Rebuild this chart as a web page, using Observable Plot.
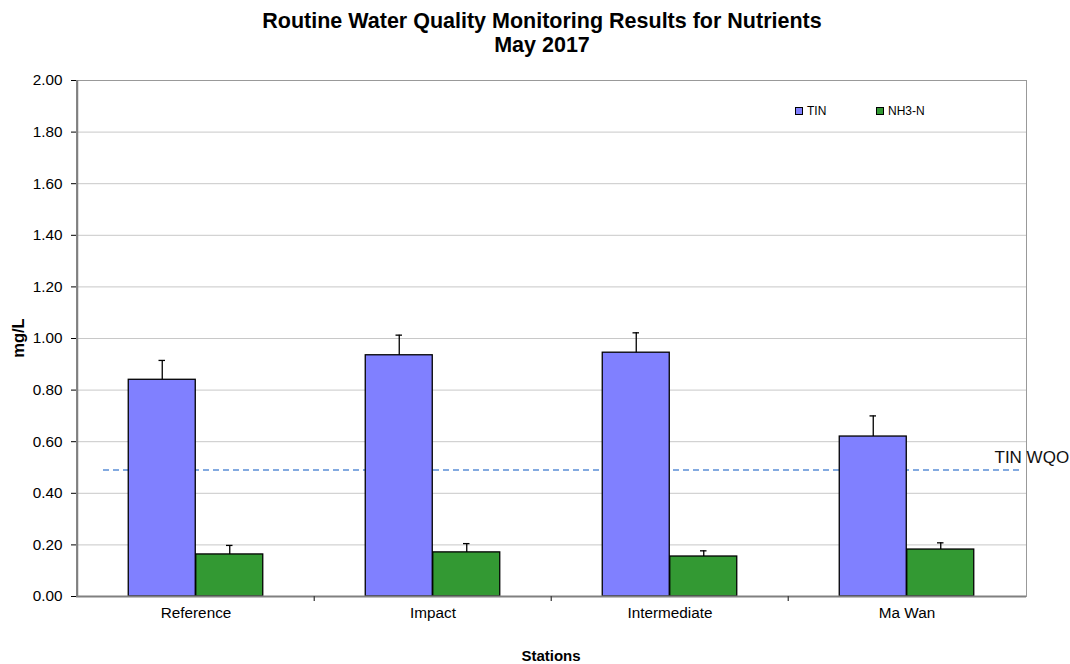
<!DOCTYPE html>
<html>
<head>
<meta charset="utf-8">
<script src="https://cdn.jsdelivr.net/npm/d3@7"></script>
<script src="https://cdn.jsdelivr.net/npm/@observablehq/plot@0.6"></script>
<style>
  html, body { margin: 0; padding: 0; background: #fff; }
  body { font-family: "Liberation Sans", Arial, sans-serif; }
  #wrap { position: relative; width: 1070px; height: 664px; overflow: hidden; }
  #title { position: absolute; left: 0; top: 9px; width: 1084px; text-align: center;
           font-size: 21.5px; font-weight: bold; line-height: 24px; color: #000; }
  #ylab { position: absolute; left: 18px; top: 338px; transform: translate(-50%, -50%) rotate(-90deg);
          font-size: 16.5px; font-weight: bold; white-space: nowrap; }
  #xlab { position: absolute; left: 551px; top: 647px; transform: translateX(-50%);
          font-size: 15px; font-weight: bold; }
  .leg { position: absolute; top: 104px; font-size: 12px; line-height: 14px; display: flex; align-items: center; }
  .sw { width: 6px; height: 6px; border: 1px solid #000; margin-right: 4px; }
  #chart { position: absolute; left: 0; top: 0; }
</style>
</head>
<body>
<div id="wrap">
  <div id="chart"></div>
  <div id="title">Routine Water Quality Monitoring Results for Nutrients<br>May 2017</div>
  <div id="ylab">mg/L</div>
  <div id="xlab">Stations</div>
  <div class="leg" style="left:795px"><div class="sw" style="background:#8080ff"></div>TIN</div>
  <div class="leg" style="left:876px"><div class="sw" style="background:#339933"></div>NH3-N</div>
</div>
<script>
const stations = ["Reference", "Impact", "Intermediate", "Ma Wan"];
const tin = [0.84, 0.935, 0.945, 0.62];
const tinErr = [0.075, 0.078, 0.077, 0.08];
const nh3 = [0.163, 0.171, 0.155, 0.182];
const nh3Err = [0.035, 0.034, 0.022, 0.026];
const wqo = [0.49];
const yTicks = [0, 0.2, 0.4, 0.6, 0.8, 1.0, 1.2, 1.4, 1.6, 1.8, 2.0];

const tinData = stations.map((s, i) => ({station: s, value: tin[i], err: tinErr[i]}));
const nh3Data = stations.map((s, i) => ({station: s, value: nh3[i], err: nh3Err[i]}));

const BW = 237.5;         // band width in px, used only for within-band offsets
const G0 = 51.25, G1 = 118.75, G2 = 186.25;

const chart = Plot.plot({
  width: 1070,
  height: 664,
  marginTop: 80,
  marginRight: 44,
  marginBottom: 68,
  marginLeft: 76,
  style: {fontFamily: "'Liberation Sans', Arial, sans-serif", fontSize: "15.3px", color: "#000", background: "#fff"},
  x: {domain: stations, padding: 0, label: null, tickSize: 0, tickPadding: 11},
  y: {domain: [0, 2], ticks: yTicks, tickFormat: d3.format(".2f"), label: null, tickSize: 5, tickPadding: 9},
  marks: [
    Plot.ruleY(yTicks.slice(1, -1), {y: d => d, stroke: "#c8c8c8", strokeWidth: 1}),
    Plot.ruleY(wqo, {y: d => d, stroke: "#5b8ed6", strokeWidth: 1.5, strokeDasharray: "6,4", insetLeft: 27, insetRight: 4}),
    Plot.barY(tinData, {x: "station", y: "value", fill: "#8080ff", stroke: "#000", strokeWidth: 1.3,
      insetLeft: G0, insetRight: BW - G1}),
    Plot.barY(nh3Data, {x: "station", y: "value", fill: "#339933", stroke: "#000", strokeWidth: 1.3,
      insetLeft: G1, insetRight: BW - G2}),
    Plot.ruleX(tinData, {x: "station", y1: "value", y2: d => d.value + d.err, dx: -33.75, stroke: "#000", strokeWidth: 1.3}),
    Plot.tickY(tinData, {x: "station", y: d => d.value + d.err, insetLeft: 81.5, insetRight: BW - 88.5, stroke: "#000", strokeWidth: 1.3}),
    Plot.ruleX(nh3Data, {x: "station", y1: "value", y2: d => d.value + d.err, dx: 33.75, stroke: "#000", strokeWidth: 1.3}),
    Plot.tickY(nh3Data, {x: "station", y: d => d.value + d.err, insetLeft: 149, insetRight: BW - 156, stroke: "#000", strokeWidth: 1.3}),
    Plot.frame({stroke: "#999", strokeWidth: 1}),
    Plot.ruleX(stations.slice(0, 1), {x: d => d, dx: -BW / 2, stroke: "#808080", strokeWidth: 2}),
    Plot.ruleY([0], {y: d => d, stroke: "#808080", strokeWidth: 2}),
    Plot.ruleX(stations.slice(1), {x: d => d, dx: -BW / 2, y1: () => 0, y2: () => 0, insetBottom: -5, stroke: "#404040", strokeWidth: 1.3}),
    Plot.text(wqo, {y: d => d, frameAnchor: "right", textAnchor: "start", lineAnchor: "bottom", dx: -32, dy: -7,
      text: () => "TIN WQO", fontSize: 17, fill: "#111"})
  ]
});
document.getElementById("chart").appendChild(chart);
</script>
</body>
</html>
